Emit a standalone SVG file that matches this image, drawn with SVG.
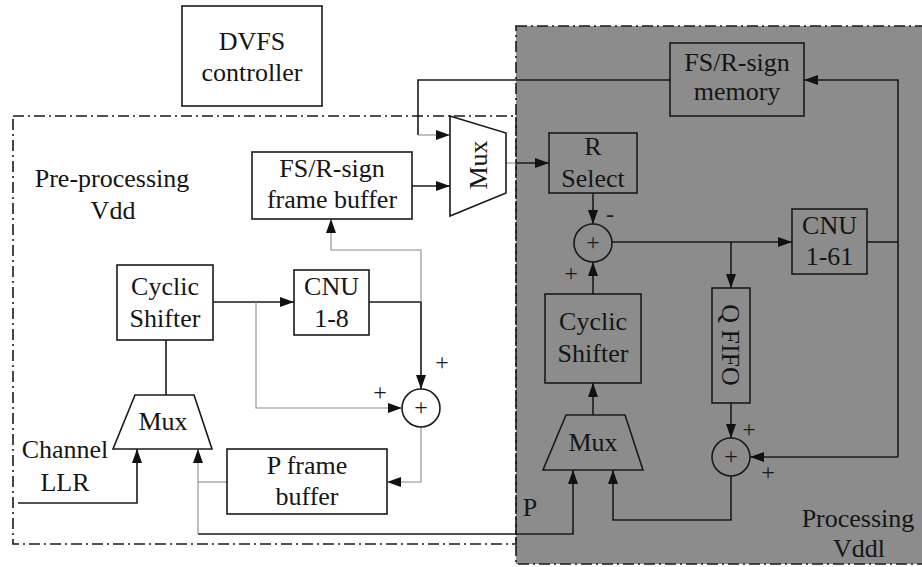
<svg xmlns="http://www.w3.org/2000/svg" width="922" height="567" viewBox="0 0 922 567">
<style>
.t{font-family:"Liberation Serif","Times New Roman",serif;font-size:26px;fill:#151515;text-anchor:middle}
.s{font-family:"Liberation Serif","Times New Roman",serif;font-size:24px;fill:#1a1a1a;text-anchor:middle}
.box{fill:#fff;stroke:#1a1a1a;stroke-width:1.6}
.gbox{fill:none;stroke:#1a1a1a;stroke-width:1.6}
.w{fill:none;stroke:#1a1a1a;stroke-width:1.6}
.g{fill:none;stroke:#8a8a8a;stroke-width:1.1}
.dd{fill:none;stroke:#1a1a1a;stroke-width:1.6;stroke-dasharray:11 4 2 4}
.gray{fill:#8c8c8c}
</style>
<defs>
<marker id="a" viewBox="0 0 14 10" refX="14" refY="5" markerWidth="14" markerHeight="10" markerUnits="userSpaceOnUse" orient="auto">
<path d="M0,0 L14,5 L0,10 z" fill="#111"/>
</marker>
</defs>
<rect width="922" height="567" fill="#fff"/>
<!-- regions -->
<g id="processing-region">
<rect x="516" y="26" width="420" height="538" class="gray"/>
<rect x="516" y="26" width="420" height="538" class="dd"/>
<text class="t" x="858" y="527">Processing</text>
<text class="t" x="859" y="557">Vddl</text>
</g>
<g id="preprocessing-region">
<rect x="13" y="116" width="503" height="428" class="dd"/>
<text class="t" x="112" y="187">Pre-processing</text>
<text class="t" x="113" y="219">Vdd</text>
</g>
<!-- connectors -->
<g id="connectors">
<polyline class="w" points="670,80 418,80 418,135"/>
<line class="g" x1="418" y1="135" x2="450" y2="135" marker-end="url(#a)"/>
<line class="w" x1="412" y1="186" x2="450" y2="186" marker-end="url(#a)"/>
<line class="g" x1="506" y1="163" x2="516" y2="163"/>
<line class="w" x1="516" y1="163" x2="549" y2="163" stroke-width="1.1" marker-end="url(#a)"/>
<polyline class="w" points="898,457 898,80 804,80" marker-end="url(#a)"/>
<line class="w" x1="867" y1="242" x2="898" y2="242"/>
<line class="w" x1="898" y1="457" x2="750" y2="457" marker-end="url(#a)"/>
<line class="w" x1="593" y1="193" x2="593" y2="224" marker-end="url(#a)"/>
<line class="w" x1="593" y1="294" x2="593" y2="262" marker-end="url(#a)"/>
<line class="w" x1="612" y1="242" x2="792" y2="242" marker-end="url(#a)"/>
<line class="w" x1="731" y1="242" x2="731" y2="288" marker-end="url(#a)"/>
<line class="w" x1="731" y1="403" x2="731" y2="438" marker-end="url(#a)"/>
<line class="w" x1="593" y1="415" x2="593" y2="383" marker-end="url(#a)"/>
<polyline class="w" points="731,476 731,520 613,520 613,470" marker-end="url(#a)"/>
<polyline class="w" points="198,534 573,534 573,470" stroke-width="1.3" marker-end="url(#a)"/>
<line class="g" x1="198" y1="534" x2="198" y2="449" marker-end="url(#a)"/>
<line class="g" x1="198" y1="482" x2="227" y2="482"/>
<polyline class="g" points="421,427 421,482 387,482" marker-end="url(#a)"/>
<polyline class="w" points="213,302 294,302" marker-end="url(#a)"/>
<polyline class="g" points="256,302 256,408 402,408" marker-end="url(#a)"/>
<polyline class="w" points="369,302 421,302 421,389" marker-end="url(#a)"/>
<polyline class="g" points="421,302 421,250 331,250 331,219" marker-end="url(#a)"/>
<line class="w" x1="166" y1="340" x2="166" y2="395"/>
<polyline class="w" points="18,503 137,503 137,449" marker-end="url(#a)"/>
</g>
<!-- nodes -->
<g id="dvfs-controller">
<rect class="box" x="182" y="6" width="140" height="100"/>
<text class="t" x="252" y="50">DVFS</text>
<text class="t" x="252" y="81">controller</text>
</g>
<g id="fs-r-sign-frame-buffer">
<rect class="box" x="252" y="152" width="160" height="67"/>
<text class="t" x="332" y="177">FS/R-sign</text>
<text class="t" x="332" y="208">frame buffer</text>
</g>
<g id="mux-top">
<polygon class="box" points="450,116 506,133 506,193 450,216"/>
<text class="t" transform="translate(487,165) rotate(-90)">Mux</text>
</g>
<g id="cyclic-shifter-left">
<rect class="box" x="117" y="265" width="96" height="75"/>
<text class="t" x="165" y="295">Cyclic</text>
<text class="t" x="165" y="327">Shifter</text>
</g>
<g id="cnu-1-8">
<rect class="box" x="294" y="270" width="75" height="65"/>
<text class="t" x="331.5" y="295">CNU</text>
<text class="t" x="331.5" y="327">1-8</text>
</g>
<g id="adder-left">
<circle class="box" cx="421" cy="408" r="19"/>
<text class="s" x="421" y="415">+</text>
<text class="s" x="442" y="370">+</text>
<text class="s" x="380" y="400">+</text>
</g>
<g id="mux-left">
<polygon class="box" points="135,395 194,395 212,449 113,449"/>
<text class="t" x="163" y="430">Mux</text>
</g>
<g id="channel-llr">
<text class="t" x="65" y="458">Channel</text>
<text class="t" x="65" y="491">LLR</text>
</g>
<g id="p-frame-buffer">
<rect class="box" x="227" y="449" width="160" height="65"/>
<text class="t" x="307" y="474">P frame</text>
<text class="t" x="307" y="505">buffer</text>
</g>
<g id="fs-r-sign-memory">
<rect class="gbox" x="670" y="43" width="134" height="73"/>
<text class="t" x="737" y="71">FS/R-sign</text>
<text class="t" x="737" y="100">memory</text>
</g>
<g id="r-select">
<rect class="gbox" x="549" y="133" width="88" height="60"/>
<text class="t" x="593" y="155">R</text>
<text class="t" x="593" y="187">Select</text>
</g>
<g id="adder-top">
<circle class="gbox" cx="593" cy="243" r="19"/>
<text class="s" x="593" y="250">+</text>
<text class="s" x="610" y="222">-</text>
<text class="s" x="571" y="281">+</text>
</g>
<g id="cnu-1-61">
<rect class="gbox" x="792" y="209" width="75" height="65"/>
<text class="t" x="829.5" y="234">CNU</text>
<text class="t" x="829.5" y="265">1-61</text>
</g>
<g id="q-fifo">
<rect class="gbox" x="712" y="288" width="38" height="115"/>
<text class="t" transform="translate(722,345) rotate(90)">Q FIFO</text>
</g>
<g id="cyclic-shifter-right">
<rect class="gbox" x="545" y="294" width="96" height="89"/>
<text class="t" x="593" y="330">Cyclic</text>
<text class="t" x="593" y="362">Shifter</text>
</g>
<g id="mux-right">
<polygon class="gbox" points="566,415 625,415 643,470 543,470"/>
<text class="t" x="593" y="451">Mux</text>
</g>
<g id="adder-bottom">
<circle class="gbox" cx="731" cy="457" r="19"/>
<text class="s" x="731" y="464">+</text>
<text class="s" x="749" y="437">+</text>
<text class="s" x="768" y="480">+</text>
</g>
<g id="p-label">
<text class="t" x="530" y="516">P</text>
</g>
</svg>
